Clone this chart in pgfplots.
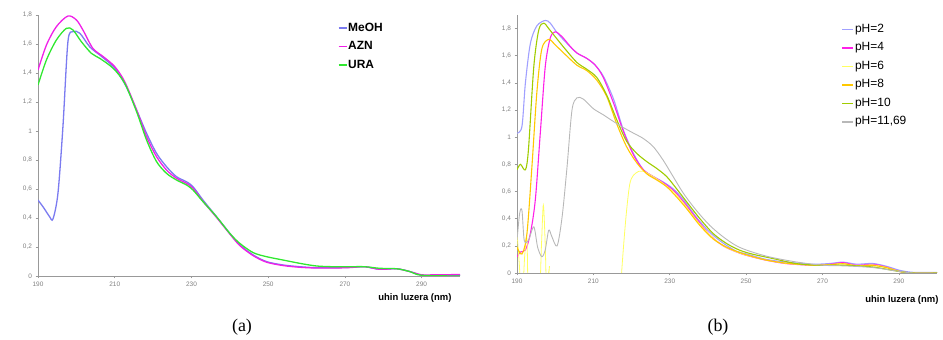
\documentclass[border=0pt]{standalone}
\usepackage{pgfplots}
\pgfplotsset{compat=1.18}
\usepackage{fontspec}
\setmainfont{Liberation Sans}
\newfontfamily\capfont{Liberation Serif}
\definecolor{cMeOH}{HTML}{7B7BF0}
\definecolor{cAZN}{HTML}{F020E8}
\definecolor{cURA}{HTML}{30E830}
\definecolor{phtwo}{HTML}{A0A0FF}
\definecolor{phfour}{HTML}{FF20E8}
\definecolor{phsix}{HTML}{FFFF60}
\definecolor{pheight}{HTML}{FFC800}
\definecolor{phten}{HTML}{A0CC00}
\definecolor{phlast}{HTML}{B8B8B8}
\pgfplotsset{
  spec/.style={
    scale only axis, anchor=south west,
    xmin=190, xmax=300, ymin=0,
    axis x line*=bottom, axis y line*=left,
    axis line style={gray!80, line width=0.8bp, -},
    xtick={190,210,230,250,270,290},
    ytick={0,0.2,0.4,0.6,0.8,1,1.2,1.4,1.6,1.8},
    tick style={gray!80, line width=0.6bp},
    major tick length=2.5bp, tick align=outside,
    /pgf/number format/assume math mode=true,
    /pgf/number format/use comma,
    tick label style={font=\fontsize{6.5}{7}\selectfont, text=gray},
    every axis plot/.append style={smooth, no markers},
    legend cell align=left,
    legend style={draw=none, fill=none, anchor=north west,
      row sep=4.5bp,
      nodes={inner sep=1bp, text height=9bp, text depth=3bp}},
  }
}
\begin{document}
\begin{tikzpicture}
\path[use as bounding box] (0,0) rectangle (943bp,340bp);
% ---------------- (a)
\begin{axis}[spec, at={(38bp,64bp)}, width=422bp, height=261bp, ymax=1.8,
  legend image code/.code={\draw[#1, line width=1.3bp] (0bp,0bp) -- (8bp,0bp);},
  legend style={at={(axis description cs:0.703,0.985)},
    font=\fontsize{12}{13}\selectfont\bfseries},
  xlabel={uhin luzera (nm)},
  xlabel style={at={(axis description cs:1,0)}, anchor=east,
    xshift=-5bp, yshift=-22bp, font=\fontsize{9.5}{11}\selectfont\bfseries},
]
\addplot[cMeOH, line width=1.3bp] coordinates {(190,0.524)(191.5,0.47)(193,0.41)(193.9,0.393)(195.2,0.57)(196.5,1.03)(197.8,1.616)(199.1,1.685)(200.9,1.674)(203.5,1.58)(206.1,1.524)(208.7,1.467)(210.4,1.42)(213,1.306)(215.7,1.145)(218.3,0.984)(220.9,0.846)(223.5,0.754)(226.1,0.685)(228.7,0.65)(230.4,0.616)(233,0.524)(236.5,0.41)(240,0.294)(242.6,0.214)(246.1,0.145)(249.6,0.099)(253.9,0.076)(258.3,0.064)(262.6,0.057)(267,0.057)(271.3,0.06)(275.2,0.064)(279.1,0.046)(283.5,0.05)(287,0.03)(290,0.005)(293,0.002)(300,0.005)};
\addlegendentry{MeOH}
\addplot[cAZN, line width=1.3bp] coordinates {(190,1.42)(192.2,1.593)(194.8,1.72)(197.8,1.793)(200,1.766)(201.7,1.697)(204.3,1.57)(207,1.513)(210,1.444)(212.6,1.34)(215.7,1.145)(218.3,0.961)(220.9,0.823)(223.5,0.731)(226.1,0.674)(228.7,0.639)(230.4,0.605)(233,0.515)(236.5,0.405)(240,0.29)(242.6,0.21)(246.1,0.14)(249.6,0.095)(253.9,0.072)(258.3,0.06)(262.6,0.055)(267,0.055)(271.3,0.058)(275.2,0.064)(279.1,0.046)(283.5,0.05)(287,0.03)(290,0.008)(293,0.008)(300,0.01)};
\addlegendentry{AZN}
\addplot[cURA, line width=1.3bp] coordinates {(190,1.317)(192.2,1.49)(194.8,1.628)(197.4,1.708)(199.1,1.697)(201.3,1.616)(203.9,1.536)(206.1,1.501)(209.6,1.432)(212.6,1.329)(215.7,1.133)(218.3,0.938)(220.9,0.789)(223.5,0.708)(226.1,0.662)(228.7,0.628)(230.4,0.593)(233,0.513)(236.5,0.41)(240,0.294)(242.6,0.225)(246.1,0.161)(249.6,0.133)(253.9,0.11)(258.3,0.087)(262.6,0.069)(267,0.064)(271.3,0.064)(275.2,0.064)(279.1,0.053)(283.5,0.05)(287,0.03)(290,0.005)(300,0.0)};
\addlegendentry{URA}
\node[font=\fontsize{10}{11}\selectfont\bfseries] at (rel axis cs:0,1) [xshift=-23bp, yshift=-7bp] {A};
\end{axis}
% ---------------- (b)
\begin{axis}[spec, at={(517bp,67bp)}, width=420bp, height=258bp, ymax=1.9,
  legend image code/.code={\draw[#1, line width=1.6bp] (0bp,0bp) -- (11bp,0bp);},
  legend style={at={(axis description cs:0.765,0.98)},
    font=\fontsize{12}{13}\selectfont},
  xlabel={uhin luzera (nm)},
  xlabel style={at={(axis description cs:1,0)}, anchor=east,
    xshift=5bp, yshift=-27bp, font=\fontsize{9.5}{11}\selectfont\bfseries},
]
\addplot[phtwo, line width=1.1bp] coordinates {(190,1.03)(191.3,1.08)(192.2,1.4)(193.5,1.69)(195.2,1.82)(197.4,1.86)(198.7,1.84)(200.5,1.77)(203.1,1.69)(205.7,1.62)(208.3,1.58)(210.5,1.53)(212.6,1.45)(215.3,1.28)(217.9,1.05)(220.5,0.88)(223.1,0.76)(225.7,0.71)(228.3,0.67)(230.9,0.62)(233.6,0.54)(237,0.41)(240.5,0.30)(244,0.22)(247.5,0.16)(250.1,0.14)(255.3,0.10)(260.6,0.08)(267.5,0.065)(271.9,0.07)(275.4,0.08)(278.9,0.065)(283.2,0.07)(286.7,0.05)(290.2,0.02)(293.7,0.005)(300,0.005)};
\addlegendentry{pH=2}
\addplot[phfour, line width=1.1bp] coordinates {(190,0.12)(190.9,0.155)(192.2,0.17)(193.5,0.29)(194.8,0.54)(196.1,1.03)(197.4,1.52)(198.7,1.73)(200,1.776)(201.8,1.74)(203.9,1.67)(205.7,1.62)(208.3,1.58)(210.5,1.53)(212.6,1.44)(215.3,1.25)(217.9,1.04)(220.5,0.87)(223.1,0.76)(225.7,0.71)(228.3,0.665)(230.9,0.61)(233.6,0.525)(237,0.40)(240.5,0.28)(244,0.20)(247.5,0.155)(250.1,0.13)(255.3,0.094)(260.6,0.069)(267.5,0.057)(271.9,0.064)(275.4,0.076)(278.9,0.057)(283.2,0.064)(286.7,0.044)(290.2,0.012)(293.7,0)(300,0)};
\addlegendentry{pH=4}
\addplot[phsix, line width=0.8bp] coordinates {(190,0.30)(190.7,0.02)(191.2,-0.3)(192,0.12)(192.6,0.25)(193.2,-0.3)(195.6,-0.3)(196.4,0.2)(196.9,0.5)(197.4,0.2)(197.9,-0.3)(198.5,0.05)(199,-0.3)(217,-0.3)(217.4,0.0)(218.5,0.4)(219.5,0.65)(220.5,0.72)(222,0.75)(223.1,0.75)(225.7,0.71)(228.3,0.66)(230.9,0.6)(233.6,0.515)(237,0.39)(240.5,0.28)(244,0.2)(247.5,0.155)(250.1,0.13)(255.3,0.095)(260.6,0.07)(267.5,0.058)(271.9,0.062)(275.4,0.07)(279,0.055)(283.2,0.06)(286.7,0.042)(290.2,0.012)(293.7,0)(300,0)};
\addlegendentry{pH=6}
\addplot[pheight, line width=1.1bp] coordinates {(190,0.19)(191.3,0.14)(192.6,0.29)(193.9,0.78)(195.2,1.33)(196.5,1.65)(198.3,1.72)(200,1.68)(202.6,1.61)(205.7,1.53)(208.3,1.49)(210.9,1.42)(213.5,1.30)(216.1,1.10)(218.7,0.93)(221.4,0.81)(224,0.73)(226.6,0.685)(229.2,0.635)(231.8,0.56)(234.4,0.475)(237.9,0.35)(241.4,0.25)(244.9,0.19)(248.4,0.15)(251.8,0.12)(255.3,0.095)(260.6,0.072)(267.5,0.058)(271.9,0.06)(275.4,0.068)(279,0.052)(283.2,0.055)(286.7,0.04)(290.2,0.01)(293.7,0)(300,0)};
\addlegendentry{pH=8}
\addplot[phten, line width=1.1bp] coordinates {(190,0.76)(190.9,0.80)(192.2,0.76)(193,0.91)(194.4,1.52)(195.7,1.79)(197,1.84)(198.3,1.80)(200,1.74)(202.6,1.65)(205.7,1.55)(208.3,1.50)(210.9,1.44)(213.5,1.31)(216.1,1.13)(218.7,0.97)(221.4,0.88)(224,0.82)(226.6,0.77)(229.2,0.71)(231.8,0.62)(234.4,0.525)(237.9,0.40)(241.4,0.29)(244.9,0.217)(248.4,0.167)(251.8,0.138)(257.1,0.106)(263.2,0.069)(269.3,0.057)(275.4,0.057)(283.2,0.044)(289.3,0.015)(293.7,0)(300,0)};
\addlegendentry{pH=10}
\addplot[phlast, line width=0.9bp] coordinates {(190,0.24)(190.7,0.44)(191.3,0.46)(191.9,0.24)(193,0.24)(194.4,0.34)(195.4,0.19)(196.5,0.12)(197.4,0.17)(198.3,0.315)(199.1,0.27)(200.5,0.20)(201.8,0.41)(203.1,0.78)(204.4,1.20)(205.7,1.29)(207.4,1.28)(210,1.21)(212.6,1.165)(215.3,1.115)(217.9,1.07)(220.5,1.03)(223.1,0.99)(225.7,0.93)(228.3,0.83)(230.9,0.71)(233.6,0.586)(237,0.46)(240.5,0.35)(244,0.266)(247.5,0.20)(251,0.16)(256.2,0.118)(263.2,0.081)(270.1,0.057)(276.2,0.052)(283.2,0.04)(289.3,0.015)(293.7,0)(300,0)};
\addlegendentry{pH=11,69}
\node[font=\fontsize{10}{11}\selectfont\bfseries] at (rel axis cs:0,1) [xshift=-26bp, yshift=-5bp] {A};
\end{axis}
\node[font=\capfont\fontsize{18}{20}\selectfont] at (242bp,13bp) {(a)};
\node[font=\capfont\fontsize{18}{20}\selectfont] at (718bp,13bp) {(b)};
\end{tikzpicture}
\end{document}
